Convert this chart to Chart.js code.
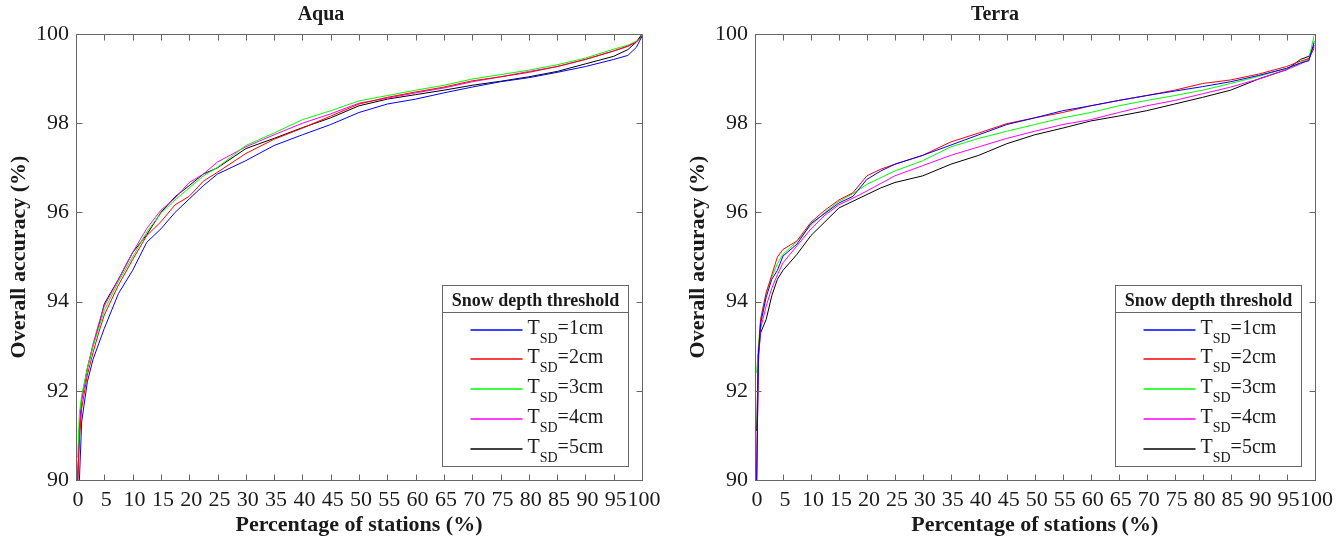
<!DOCTYPE html>
<html>
<head>
<meta charset="utf-8">
<script src="https://cdn.jsdelivr.net/npm/chart.js@4.4.0/dist/chart.umd.min.js"></script>
<style>
  html, body { margin: 0; padding: 0; background: #fff; }
  .panel { position: absolute; top: 0; width: 669px; height: 536px; }
  #left { left: 0; }
  #right { left: 669px; }
</style>
</head>
<body>
<div class="panel" id="left"><canvas id="aqua" width="669" height="536"></canvas></div>
<div class="panel" id="right"><canvas id="terra" width="669" height="536"></canvas></div>
<script>
// percentage of stations where each curve is sampled
const PCT = [0.3, 0.6, 1, 2, 3, 4, 5, 7.5, 10, 12.5, 15, 17.5, 20, 22.5, 25, 30, 35, 40, 45, 50,
             55, 60, 65, 70, 75, 80, 85, 90, 95, 97.5, 99, 100];

const THRESHOLDS = [1, 2, 3, 4, 5];
const COLORS = ['#0000ff', '#ff0000', '#00ff00', '#ff00ff', '#000000'];

// Aqua overall accuracy (%), one array per snow depth threshold
const aquaT1 = [null, 90.0, 91.3, 92.2, 92.7, 93.05, 93.4, 94.18, 94.7, 95.33, 95.63, 96.0, 96.3, 96.6, 96.86, 97.16,
                97.5, 97.74, 97.97, 98.24, 98.43, 98.54, 98.68, 98.81, 98.93, 99.02, 99.14, 99.27, 99.43, 99.52, 99.7, 99.95];
const aquaT2 = [90.0, 90.9, 91.6, 92.35, 92.85, 93.3, 93.7, 94.37, 94.94, 95.48, 95.79, 96.17, 96.36, 96.7, 96.9, 97.32,
                97.64, 97.89, 98.16, 98.43, 98.58, 98.7, 98.81, 98.95, 99.04, 99.14, 99.27, 99.43, 99.62, 99.73, 99.82, 99.95];
const aquaT3 = [90.5, 91.5, 91.9, 92.5, 93.0, 93.4, 93.8, 94.45, 95.0, 95.56, 95.98, 96.28, 96.55, 96.82, 97.01, 97.5,
                97.78, 98.08, 98.28, 98.5, 98.62, 98.74, 98.85, 98.99, 99.09, 99.19, 99.31, 99.46, 99.66, 99.75, 99.84, 99.95];
const aquaT4 = [90.0, 91.0, 91.8, 92.5, 93.05, 93.5, 93.9, 94.5, 95.1, 95.64, 96.05, 96.32, 96.67, 96.86, 97.13, 97.47,
                97.74, 98.0, 98.21, 98.45, 98.56, 98.68, 98.79, 98.93, 99.04, 99.16, 99.27, 99.43, 99.62, 99.72, 99.82, 99.95];
const aquaT5 = [90.0, 91.2, 91.8, 92.5, 93.0, 93.45, 93.95, 94.5, 95.1, 95.5, 96.0, 96.35, 96.6, 96.86, 97.0, 97.43,
                97.66, 97.9, 98.12, 98.39, 98.54, 98.64, 98.74, 98.85, 98.94, 99.04, 99.16, 99.33, 99.5, 99.65, 99.82, 100];

// Terra overall accuracy (%)
const terraT1 = [90.0, 92.8, 93.5, 94.1, 94.5, 94.7, 95.02, 95.29, 95.75, 95.98, 96.21, 96.36, 96.74, 96.93, 97.08, 97.28,
                 97.51, 97.74, 97.97, 98.12, 98.28, 98.39, 98.51, 98.62, 98.72, 98.82, 98.93, 99.07, 99.23, 99.35, 99.4, 99.85];
const terraT2 = [90.0, 92.8, 93.6, 94.2, 94.6, 95.0, 95.17, 95.36, 95.78, 96.05, 96.28, 96.44, 96.82, 96.97, 97.08, 97.28,
                 97.58, 97.78, 97.99, 98.12, 98.24, 98.39, 98.51, 98.62, 98.74, 98.89, 98.97, 99.1, 99.27, 99.39, 99.45, 99.7];
const terraT3 = [92.4, 93.0, 93.6, 94.2, 94.55, 94.85, 95.06, 95.35, 95.71, 96.0, 96.25, 96.42, 96.63, 96.78, 96.93, 97.16,
                 97.47, 97.66, 97.82, 97.97, 98.12, 98.24, 98.39, 98.51, 98.62, 98.74, 98.89, 99.05, 99.23, 99.35, 99.45, 100];
const terraT4 = [90.0, 92.6, 93.4, 93.9, 94.3, 94.6, 94.87, 95.25, 95.63, 95.94, 96.17, 96.32, 96.48, 96.65, 96.82, 97.05,
                 97.28, 97.47, 97.66, 97.82, 97.97, 98.08, 98.24, 98.39, 98.51, 98.66, 98.81, 98.99, 99.2, 99.33, 99.42, 99.8];
const terraT5 = [91.1, 92.8, 93.3, 93.6, 94.13, 94.5, 94.7, 95.06, 95.48, 95.79, 96.1, 96.25, 96.4, 96.55, 96.67, 96.82,
                 97.08, 97.28, 97.54, 97.74, 97.89, 98.05, 98.16, 98.28, 98.43, 98.58, 98.74, 98.99, 99.2, 99.43, 99.5, 99.75];

const SERIF = '"Liberation Serif", "Times New Roman", serif';
const INK = '#1a1a1a';
const FRAME = '#666666';
const TICK = 6;

// box round the plot with inward ticks on all four sides
const axisFrame = {
  id: 'axisFrame',
  afterDatasetsDraw(chart) {
    const ctx = chart.ctx, a = chart.chartArea;
    const xs = chart.scales.x, ys = chart.scales.y;
    const L = Math.round(a.left) + 0.5, R = Math.round(a.right) + 0.5;
    const T = Math.round(a.top) + 0.5, B = Math.round(a.bottom) + 0.5;
    ctx.save();
    ctx.strokeStyle = FRAME;
    ctx.lineWidth = 1;
    ctx.beginPath();
    xs.ticks.forEach(t => {
      const px = Math.round(xs.getPixelForValue(t.value)) + 0.5;
      ctx.moveTo(px, B); ctx.lineTo(px, B - TICK);
      ctx.moveTo(px, T); ctx.lineTo(px, T + TICK);
    });
    ys.ticks.forEach(t => {
      const py = Math.round(ys.getPixelForValue(t.value)) + 0.5;
      ctx.moveTo(L, py); ctx.lineTo(L + TICK, py);
      ctx.moveTo(R, py); ctx.lineTo(R - TICK, py);
    });
    ctx.stroke();
    ctx.strokeRect(L, T, R - L, B - T);
    ctx.restore();
  }
};

// legend with a title row and subscripted labels
const legendBox = {
  id: 'legendBox',
  afterDatasetsDraw(chart) {
    const ctx = chart.ctx, a = chart.chartArea;
    const w = 186, h = 181;
    const x0 = Math.round(a.right - 14 - w) + 0.5;
    const y0 = Math.round(a.bottom - 14 - h) + 0.5;
    ctx.save();
    ctx.fillStyle = '#fff';
    ctx.fillRect(x0, y0, w, h);
    ctx.strokeStyle = FRAME;
    ctx.lineWidth = 1;
    ctx.strokeRect(x0, y0, w, h);
    ctx.beginPath();
    ctx.moveTo(x0, y0 + 27);
    ctx.lineTo(x0 + w, y0 + 27);
    ctx.stroke();

    ctx.fillStyle = INK;
    ctx.textBaseline = 'alphabetic';
    ctx.textAlign = 'center';
    ctx.font = 'bold 18px ' + SERIF;
    ctx.fillText('Snow depth threshold', x0 + w / 2, y0 + 20);

    ctx.textAlign = 'left';
    chart.data.datasets.forEach((ds, i) => {
      const y = Math.round(y0 + 44 + i * 29.8);
      ctx.strokeStyle = ds.borderColor;
      ctx.lineWidth = 1.5;
      ctx.beginPath();
      ctx.moveTo(x0 + 28, y);
      ctx.lineTo(x0 + 80, y);
      ctx.stroke();
      let tx = x0 + 85;
      ctx.font = '20px ' + SERIF;
      ctx.fillText('T', tx, y + 4);
      tx += ctx.measureText('T').width;
      ctx.font = '14px ' + SERIF;
      ctx.fillText('SD', tx, y + 13);
      tx += ctx.measureText('SD').width;
      ctx.font = '20px ' + SERIF;
      ctx.fillText('=' + THRESHOLDS[i] + 'cm', tx, y + 4);
    });
    ctx.restore();
  }
};

function makeDatasets(series) {
  return series.map((vals, i) => ({
    label: 'TSD=' + THRESHOLDS[i] + 'cm',
    data: PCT.map((p, j) => ({ x: p, y: vals[j] })),
    borderColor: COLORS[i],
    borderWidth: 1,
    pointRadius: 0,
    tension: 0,
    fill: false
  }));
}

function makeChart(id, title, series, yWidth, padRight, titlePad) {
  return new Chart(document.getElementById(id), {
    type: 'line',
    data: { datasets: makeDatasets(series) },
    options: {
      responsive: false,
      animation: false,
      events: [],
      layout: { padding: { left: 0, right: padRight, top: 0, bottom: 0 }, autoPadding: false },
      plugins: {
        legend: { display: false },
        tooltip: { enabled: false },
        title: {
          display: true,
          text: title,
          color: INK,
          font: { family: SERIF, size: 20, weight: 'bold', lineHeight: 1.2 },
          padding: { top: 3, bottom: 7 }
        }
      },
      scales: {
        x: {
          type: 'linear',
          min: 0,
          max: 100,
          grid: { display: false, drawTicks: false },
          border: { display: false },
          ticks: {
            stepSize: 5,
            autoSkip: false,
            maxRotation: 0,
            color: INK,
            padding: 7,
            labelOffset: 2,
            font: { family: SERIF, size: 22 }
          },
          title: {
            display: true,
            text: 'Percentage of stations (%)',
            color: INK,
            font: { family: SERIF, size: 22, weight: 'bold', lineHeight: 1 },
            padding: 0
          },
          afterFit(s) { s.height = 56; }
        },
        y: {
          min: 90,
          max: 100,
          grid: { display: false, drawTicks: false },
          border: { display: false },
          ticks: {
            stepSize: 2,
            color: INK,
            padding: 7,
            font: { family: SERIF, size: 22 }
          },
          title: {
            display: true,
            text: 'Overall accuracy (%)',
            color: INK,
            font: { family: SERIF, size: 22, weight: 'bold', lineHeight: 1.2 },
            padding: { top: titlePad, bottom: 0 }
          },
          afterFit(s) { s.width = yWidth; }
        }
      }
    },
    plugins: [axisFrame, legendBox]
  });
}

makeChart('aqua', 'Aqua', [aquaT1, aquaT2, aquaT3, aquaT4, aquaT5], 76, 27, 6);
makeChart('terra', 'Terra', [terraT1, terraT2, terraT3, terraT4, terraT5], 86, 17, 16);
</script>
</body>
</html>
